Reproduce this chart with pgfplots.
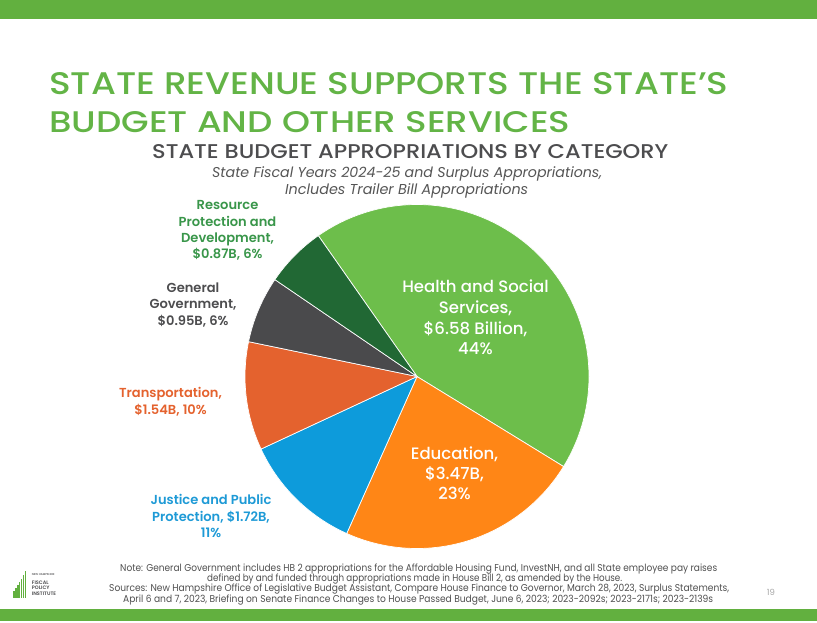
\documentclass[border=0pt]{standalone}
\usepackage{fontspec}
\setmainfont{Poppins}[BoldFont={Poppins Medium}]
\newfontfamily\semib{Poppins SemiBold}
\usepackage{graphicx}
\usepackage{pgfplots}
\usepackage{pgfplotstable}
\pgfplotsset{compat=1.18}

\definecolor{barG}{HTML}{62B03F}
\definecolor{titleG}{HTML}{63B446}
\definecolor{subGray}{HTML}{4D4D4F}
\definecolor{italGray}{HTML}{555555}
\definecolor{cHealth}{HTML}{6DBE4B}
\definecolor{cRes}{HTML}{216834}
\definecolor{cGen}{HTML}{4A4A4C}
\definecolor{cTrans}{HTML}{E4622E}
\definecolor{cJust}{HTML}{0D9BDB}
\definecolor{cEdu}{HTML}{FF8616}
\definecolor{lRes}{HTML}{39964A}
\definecolor{lJust}{HTML}{1E9AD6}
\definecolor{noteGray}{HTML}{4F4F4F}

\pgfplotstableread{
cat value
Health 6.58
Education 3.47
Justice 1.72
Transportation 1.54
General 0.95
Resource 0.87
}\budget

\newcommand\getv[2]{\pgfplotstablegetelem{#1}{value}\of\budget\edef#2{\pgfplotsretval}}

\begin{document}%
\begin{tikzpicture}
\getv{0}{\vA}\getv{1}{\vB}\getv{2}{\vC}\getv{3}{\vD}\getv{4}{\vE}\getv{5}{\vF}
\pgfmathsetmacro\tot{\vA+\vB+\vC+\vD+\vE+\vF}
\pgfmathsetmacro\aA{125}
\pgfmathsetmacro\aB{\aA-\vA/\tot*360}
\pgfmathsetmacro\aC{\aB-\vB/\tot*360}
\pgfmathsetmacro\aD{\aC-\vC/\tot*360}
\pgfmathsetmacro\aE{\aD-\vD/\tot*360}
\pgfmathsetmacro\aF{\aE-\vE/\tot*360}
\pgfmathsetmacro\aG{\aF-\vF/\tot*360}
\begin{axis}[at={(417bp,-376.5bp)}, anchor=center, width=344bp, height=344bp,
  scale only axis, xmin=-1, xmax=1, ymin=-1, ymax=1, hide axis, clip=false]
\addplot[fill=cHealth, draw=white, line width=0.7pt, domain=\aB:\aA, samples=120] ({cos(x)},{sin(x)}) -- (axis cs:0,0) -- cycle;
\addplot[fill=cEdu, draw=white, line width=0.7pt, domain=\aC:\aB, samples=80] ({cos(x)},{sin(x)}) -- (axis cs:0,0) -- cycle;
\addplot[fill=cJust, draw=white, line width=0.7pt, domain=\aD:\aC, samples=50] ({cos(x)},{sin(x)}) -- (axis cs:0,0) -- cycle;
\addplot[fill=cTrans, draw=white, line width=0.7pt, domain=\aE:\aD, samples=50] ({cos(x)},{sin(x)}) -- (axis cs:0,0) -- cycle;
\addplot[fill=cGen, draw=white, line width=0.7pt, domain=\aF:\aE, samples=40] ({cos(x)},{sin(x)}) -- (axis cs:0,0) -- cycle;
\addplot[fill=cRes, draw=white, line width=0.7pt, domain=\aG:\aF, samples=40] ({cos(x)},{sin(x)}) -- (axis cs:0,0) -- cycle;
\end{axis}
\begin{scope}[x=1bp, y=-1bp]
% bars
\fill[barG] (0,0) rectangle (817,19.3);
\fill[barG] (0,609) rectangle (817,621);
% title
\node[anchor=south west, inner sep=0, text=titleG] at (49,95) {\resizebox{679bp}{22bp}{\bfseries STATE REVENUE SUPPORTS THE STATE’S}};
\node[anchor=south west, inner sep=0, text=titleG] at (49,133) {\resizebox{521bp}{21bp}{\bfseries BUDGET AND OTHER SERVICES}};
\node[anchor=south west, inner sep=0, text=subGray] at (152,159) {\resizebox{516bp}{14bp}{\bfseries STATE BUDGET APPROPRIATIONS BY CATEGORY}};
\node[anchor=base west, inner sep=0, text=italGray] at (212,177.7) {\resizebox{390bp}{!}{\itshape State Fiscal Years 2024-25 and Surplus Appropriations,}};
\node[anchor=base west, inner sep=0, text=italGray] at (285,195) {\resizebox{243bp}{!}{\itshape Includes Trailer Bill Appropriations}};
% pie labels
\tikzset{pl/.style={anchor=base, inner sep=0, font=\fontsize{16.6}{20}\selectfont\bfseries, text=white},
         sl/.style={anchor=base, inner sep=0, font=\fontsize{13.1}{15}\selectfont\semib}}
\node[pl] at (475.5,292.3) {Health and Social};
\node[pl] at (475.5,313) {Services,};
\node[pl] at (475.5,334) {\$6.58 Billion,};
\node[pl] at (475.5,354.5) {44\%};
\node[pl] at (454.5,459.5) {Education,};
\node[pl] at (454.5,479.5) {\$3.47B,};
\node[pl] at (454.5,499.5) {23\%};
\node[sl, text=lRes] at (227.5,209.5) {Resource};
\node[sl, text=lRes] at (227.5,226.2) {Protection and};
\node[sl, text=lRes] at (227.5,242.8) {Development,};
\node[sl, text=lRes] at (227.5,258.8) {\$0.87B, 6\%};
\node[sl, text=subGray] at (193,292.8) {General};
\node[sl, text=subGray] at (193,308.8) {Government,};
\node[sl, text=subGray] at (193,325.5) {\$0.95B, 6\%};
\node[sl, text=cTrans] at (170.5,397.8) {Transportation,};
\node[sl, text=cTrans] at (170.5,414.5) {\$1.54B, 10\%};
\node[sl, text=lJust] at (211,504.5) {Justice and Public};
\node[sl, text=lJust] at (211,521.2) {Protection, \$1.72B,};
\node[sl, text=lJust] at (211,537.2) {11\%};
% notes
\node[anchor=base west, inner sep=0, text=noteGray] at (120,571.5) {\resizebox{597bp}{7.6bp}{Note: General Government includes HB 2 appropriations for the Affordable Housing Fund, InvestNH, and all State employee pay raises}};
\node[anchor=base west, inner sep=0, text=noteGray] at (207,581.7) {\resizebox{415bp}{7.6bp}{defined by and funded through appropriations made in House Bill 2, as amended by the House.}};
\node[anchor=base west, inner sep=0, text=noteGray] at (109,591.9) {\resizebox{620bp}{7.6bp}{Sources: New Hampshire Office of Legislative Budget Assistant, Compare House Finance to Governor, March 28, 2023, Surplus Statements,}};
\node[anchor=base west, inner sep=0, text=noteGray] at (123,602) {\resizebox{590bp}{7.6bp}{April 6 and 7, 2023, Briefing on Senate Finance Changes to House Passed Budget, June 6, 2023; 2023-2092s; 2023-2171s; 2023-2139s}};
\node[anchor=center, inner sep=0, text=gray!70, font=\fontsize{8.5}{10}\selectfont] at (771,592) {19};
% logo
\foreach \i/\t in {0/591,1/588,2/585,3/582,4/579,5/575,6/571}{
  \fill[barG] (13.3+\i*1.95,\t) rectangle (14.6+\i*1.95,598);
}
\node[anchor=base west, inner sep=0, text=subGray, font=\fontsize{2.8}{3}\selectfont\bfseries] at (31.7,575) {NEW HAMPSHIRE};
\node[anchor=base west, inner sep=0, text=subGray, font=\fontsize{5}{6}\selectfont\semib] at (31.7,584) {FISCAL};
\node[anchor=base west, inner sep=0, text=subGray, font=\fontsize{5}{6}\selectfont\semib] at (31.7,589.6) {POLICY};
\node[anchor=base west, inner sep=0, text=subGray, font=\fontsize{5}{6}\selectfont\semib] at (31.7,595.6) {INSTITUTE};
\end{scope}
\pgfresetboundingbox
\path[use as bounding box] (0,0) rectangle (817bp,-623bp);
\end{tikzpicture}%
\end{document}
